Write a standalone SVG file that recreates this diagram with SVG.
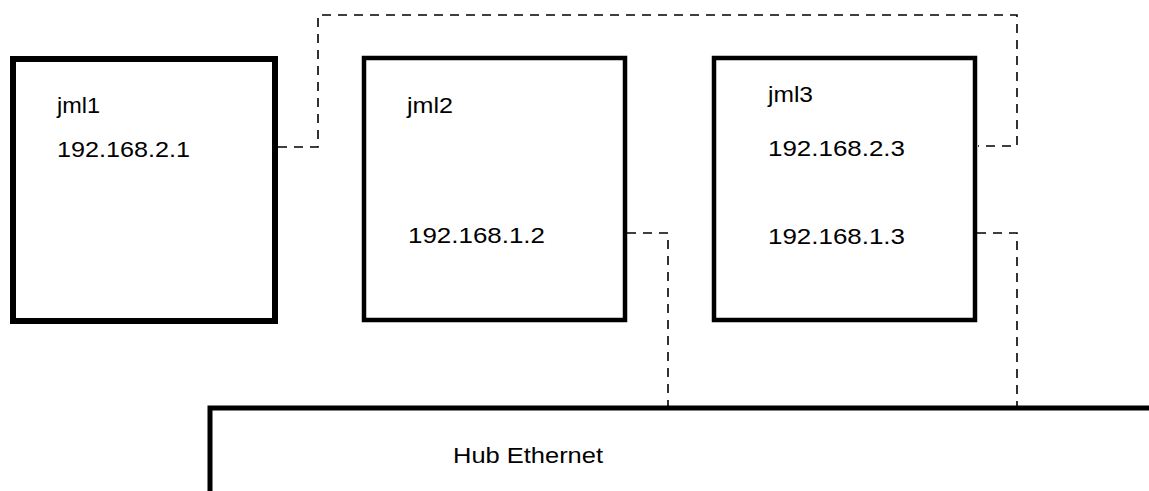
<svg xmlns="http://www.w3.org/2000/svg" width="1149" height="491" viewBox="0 0 1149 491">
<style>
.box{fill:#fff;stroke:#000}
.t{font-family:"Liberation Sans",Arial,sans-serif;font-size:22px;fill:#000}
.dash{fill:none;stroke:#000;stroke-width:1.6;stroke-dasharray:9,7}
</style>
<rect width="1149" height="491" fill="#fff"/>
<g id="connectors">
<path class="dash" d="M278,147 H318 V15 H1017 V146 H978"/>
<path class="dash" d="M627,233 H668 V408"/>
<path class="dash" d="M977,233 H1017 V408"/>
</g>
<g id="hub">
<path d="M210,495 V408 H1155" fill="none" stroke="#000" stroke-width="5"/>
<text class="t" x="453" y="463" textLength="150" lengthAdjust="spacingAndGlyphs">Hub Ethernet</text>
</g>
<g id="jml1">
<rect class="box" x="13" y="59" width="262" height="262" stroke-width="6"/>
<text class="t" x="57" y="113" textLength="43" lengthAdjust="spacingAndGlyphs">jml1</text>
<text class="t" x="57" y="157" textLength="133" lengthAdjust="spacingAndGlyphs">192.168.2.1</text>
</g>
<g id="jml2">
<rect class="box" x="364" y="58" width="261" height="262" stroke-width="4.5"/>
<text class="t" x="407" y="113" textLength="46" lengthAdjust="spacingAndGlyphs">jml2</text>
<text class="t" x="408" y="243" textLength="137" lengthAdjust="spacingAndGlyphs">192.168.1.2</text>
</g>
<g id="jml3">
<rect class="box" x="714" y="58" width="261" height="262" stroke-width="4.5"/>
<text class="t" x="768" y="102" textLength="45" lengthAdjust="spacingAndGlyphs">jml3</text>
<text class="t" x="768" y="156" textLength="137" lengthAdjust="spacingAndGlyphs">192.168.2.3</text>
<text class="t" x="768" y="244" textLength="137" lengthAdjust="spacingAndGlyphs">192.168.1.3</text>
</g>
</svg>
